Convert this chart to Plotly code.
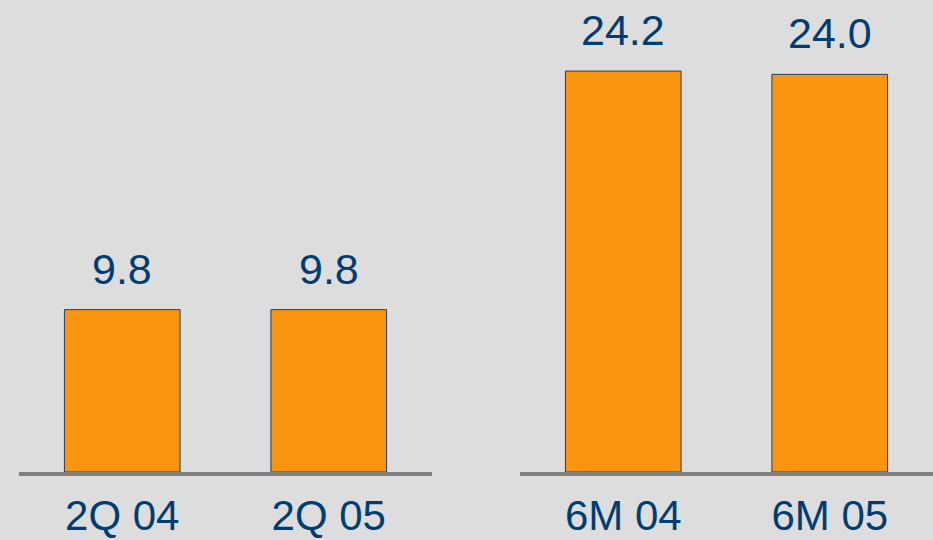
import plotly.graph_objects as go

cats_q = ["2Q 04", "2Q 05"]
vals_q = [9.8, 9.8]
cats_m = ["6M 04", "6M 05"]
vals_m = [24.2, 24.0]

BG = "#DDDDDD"
ORANGE = "#F9950F"
BLUE = "#003D73"
GRAY = "#7F7F7F"
FONT = "Liberation Sans, Arial, sans-serif"

fig = go.Figure()
fig.add_trace(go.Bar(x=cats_q, y=vals_q, xaxis="x", yaxis="y", width=0.56,
                     marker=dict(color=ORANGE, line=dict(color="#1F3F66", width=1))))
fig.add_trace(go.Bar(x=cats_m, y=vals_m, xaxis="x2", yaxis="y", width=0.56,
                     marker=dict(color=ORANGE, line=dict(color="#1F3F66", width=1))))

for xa, cats, vals in (("x", cats_q, vals_q), ("x2", cats_m, vals_m)):
    for c, v in zip(cats, vals):
        fig.add_annotation(x=c, y=v, xref=xa, yref="y", text=f"{v:.1f}",
                           showarrow=False, yshift=41, yanchor="middle",
                           font=dict(family=FONT, size=43, color=BLUE))

axis_common = dict(range=[-0.5, 1.5], showline=True, linecolor=GRAY, linewidth=4,
                   showgrid=False, zeroline=False, ticks="outside", ticklen=4,
                   tickcolor="rgba(0,0,0,0)", automargin=False,
                   tickfont=dict(family=FONT, size=42, color=BLUE), fixedrange=True)
fig.update_layout(
    width=933, height=540,
    paper_bgcolor=BG, plot_bgcolor=BG,
    margin=dict(l=0, r=0, t=0, b=68),
    showlegend=False,
    xaxis=dict(domain=[19/933, 432/933], anchor="y", **axis_common),
    xaxis2=dict(domain=[520/933, 1], anchor="y", **axis_common),
    yaxis=dict(range=[0, 28.49], visible=False, fixedrange=True),
)
fig.write_html("out.html")
